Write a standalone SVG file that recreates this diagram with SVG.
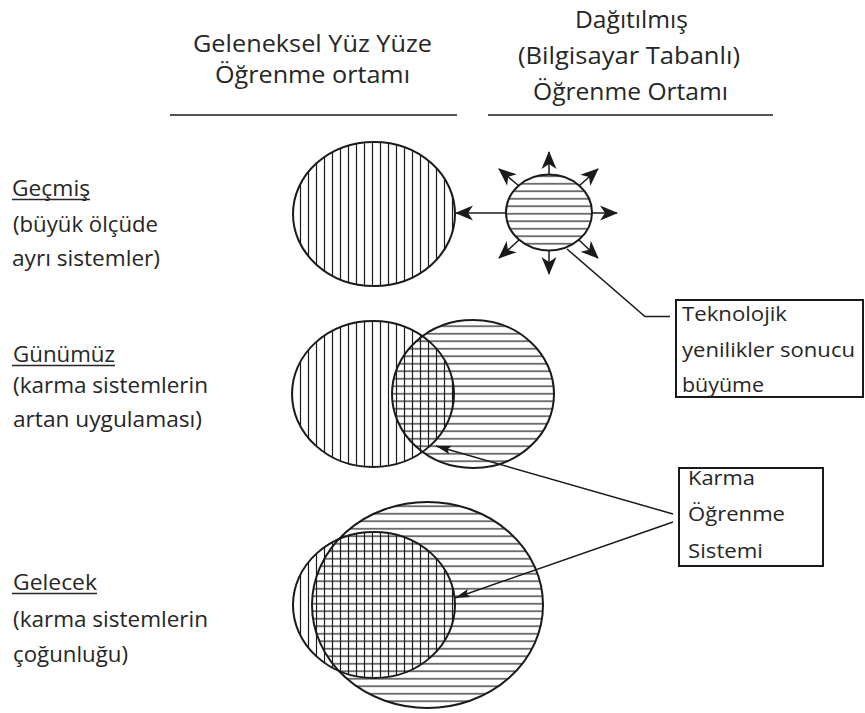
<svg xmlns="http://www.w3.org/2000/svg" width="865" height="713" viewBox="0 0 865 713">
<style>
  text { font-family: "Open Sans", "Liberation Sans", sans-serif; fill: #262626; }
  .hdr { font-size: 23.5px; }
  .lbl { font-size: 21px; }
  .box { font-size: 20px; }
  .rule { stroke: #1a1a1a; stroke-width: 1.6; }
  .ul { stroke: #262626; stroke-width: 1.3; }
  .circ { stroke: #1a1a1a; stroke-width: 2; }
  .frame { fill: #fff; stroke: #1a1a1a; stroke-width: 2; }
  .conn { fill: none; stroke: #1a1a1a; stroke-width: 1.5; }
</style>
<defs>
  <pattern id="vert" patternUnits="userSpaceOnUse" x="0" y="0" width="8" height="8">
    <line x1="4.5" y1="0" x2="4.5" y2="8" stroke="#1a1a1a" stroke-width="1.2"/>
  </pattern>
  <pattern id="horz" patternUnits="userSpaceOnUse" x="0" y="0" width="8" height="7.5">
    <line x1="0" y1="3.75" x2="8" y2="3.75" stroke="#1a1a1a" stroke-width="1.2"/>
  </pattern>
  <marker id="bold" markerUnits="userSpaceOnUse" markerWidth="20" markerHeight="16" refX="18" refY="8" orient="auto" viewBox="0 0 20 16">
    <path d="M19,8 L1,0.5 L6,8 L1,15.5 Z" fill="#1a1a1a"/>
  </marker>
  <marker id="thin" markerUnits="userSpaceOnUse" markerWidth="18" markerHeight="10" refX="16" refY="5" orient="auto" viewBox="0 0 18 10">
    <path d="M16,5 L1,0.8 L4,5 L1,9.2 Z" fill="#1a1a1a"/>
  </marker>
</defs>
<rect width="865" height="713" fill="#fff"/>

<g id="header-left">
  <text class="hdr" x="193" y="52" textLength="239" lengthAdjust="spacingAndGlyphs">Geleneksel Yüz Yüze</text>
  <text class="hdr" x="215" y="83" textLength="195" lengthAdjust="spacingAndGlyphs">Öğrenme ortamı</text>
  <line class="rule" x1="170" y1="115" x2="457" y2="115"/>
</g>
<g id="header-right">
  <text class="hdr" x="575" y="28" textLength="113" lengthAdjust="spacingAndGlyphs">Dağıtılmış</text>
  <text class="hdr" x="518" y="64" textLength="222" lengthAdjust="spacingAndGlyphs">(Bilgisayar Tabanlı)</text>
  <text class="hdr" x="533" y="100" textLength="195" lengthAdjust="spacingAndGlyphs">Öğrenme Ortamı</text>
  <line class="rule" x1="488" y1="115" x2="773" y2="115"/>
</g>

<g id="label-gecmis">
  <text class="lbl" x="12" y="196" textLength="78" lengthAdjust="spacingAndGlyphs">Geçmiş</text>
  <line class="ul" x1="12" y1="199.5" x2="90" y2="199.5"/>
  <text class="lbl" x="13" y="232" textLength="145" lengthAdjust="spacingAndGlyphs">(büyük ölçüde</text>
  <text class="lbl" x="12" y="266" textLength="148" lengthAdjust="spacingAndGlyphs">ayrı sistemler)</text>
</g>
<g id="label-gunumuz">
  <text class="lbl" x="13" y="362" textLength="102" lengthAdjust="spacingAndGlyphs">Günümüz</text>
  <line class="ul" x1="12" y1="365.5" x2="115" y2="365.5"/>
  <text class="lbl" x="13" y="393" textLength="195" lengthAdjust="spacingAndGlyphs">(karma sistemlerin</text>
  <text class="lbl" x="13" y="427" textLength="189" lengthAdjust="spacingAndGlyphs">artan uygulaması)</text>
</g>
<g id="label-gelecek">
  <text class="lbl" x="13" y="590" textLength="84" lengthAdjust="spacingAndGlyphs">Gelecek</text>
  <line class="ul" x1="12" y1="593.5" x2="97" y2="593.5"/>
  <text class="lbl" x="13" y="627" textLength="195" lengthAdjust="spacingAndGlyphs">(karma sistemlerin</text>
  <text class="lbl" x="13" y="662" textLength="115" lengthAdjust="spacingAndGlyphs">çoğunluğu)</text>
</g>

<g id="past-traditional">
  <ellipse class="circ" cx="374" cy="214" rx="81" ry="72" fill="url(#vert)"/>
</g>
<g id="past-distributed">
  <ellipse class="circ" cx="549" cy="212.5" rx="43" ry="38" fill="url(#horz)"/>
</g>

<g id="present-traditional">
  <ellipse class="circ" cx="373" cy="394" rx="81" ry="73" fill="url(#vert)"/>
</g>
<g id="present-distributed">
  <ellipse class="circ" cx="473" cy="394" rx="81" ry="74" fill="url(#horz)"/>
</g>

<g id="future-distributed">
  <ellipse class="circ" cx="427.5" cy="605" rx="115.5" ry="103" fill="url(#horz)"/>
</g>
<g id="future-traditional">
  <ellipse class="circ" cx="374" cy="605" rx="81" ry="73" fill="url(#vert)"/>
</g>

<g id="box-teknoloji">
  <rect class="frame" x="676" y="300" width="187" height="97"/>
  <text class="box" x="682" y="321" textLength="105" lengthAdjust="spacingAndGlyphs">Teknolojik</text>
  <text class="box" x="682" y="357" textLength="173" lengthAdjust="spacingAndGlyphs">yenilikler sonucu</text>
  <text class="box" x="682" y="392" textLength="82" lengthAdjust="spacingAndGlyphs">büyüme</text>
</g>
<g id="box-karma">
  <rect class="frame" x="679" y="468" width="144" height="98"/>
  <text class="box" x="688" y="485" textLength="67" lengthAdjust="spacingAndGlyphs">Karma</text>
  <text class="box" x="688" y="521" textLength="97" lengthAdjust="spacingAndGlyphs">Öğrenme</text>
  <text class="box" x="688" y="558" textLength="75" lengthAdjust="spacingAndGlyphs">Sistemi</text>
</g>

<g id="connectors">
  <line class="conn" x1="506" y1="213" x2="456" y2="213" marker-end="url(#bold)"/>
  <line class="conn" x1="549" y1="175" x2="549" y2="152" marker-end="url(#bold)"/>
  <line class="conn" x1="549" y1="250" x2="549" y2="274" marker-end="url(#bold)"/>
  <line class="conn" x1="592" y1="213" x2="617" y2="213" marker-end="url(#bold)"/>
  <line class="conn" x1="519" y1="186" x2="499" y2="169" marker-end="url(#bold)"/>
  <line class="conn" x1="579" y1="186" x2="598" y2="169" marker-end="url(#bold)"/>
  <line class="conn" x1="519" y1="240" x2="499" y2="258" marker-end="url(#bold)"/>
  <line class="conn" x1="579" y1="240" x2="598" y2="258" marker-end="url(#bold)"/>
  <polyline class="conn" points="567,249 645,316.5 670,316.5"/>
  <line class="conn" x1="673" y1="514" x2="436" y2="446" marker-end="url(#thin)"/>
  <line class="conn" x1="673" y1="522" x2="455" y2="598" marker-end="url(#thin)"/>
</g>
</svg>
